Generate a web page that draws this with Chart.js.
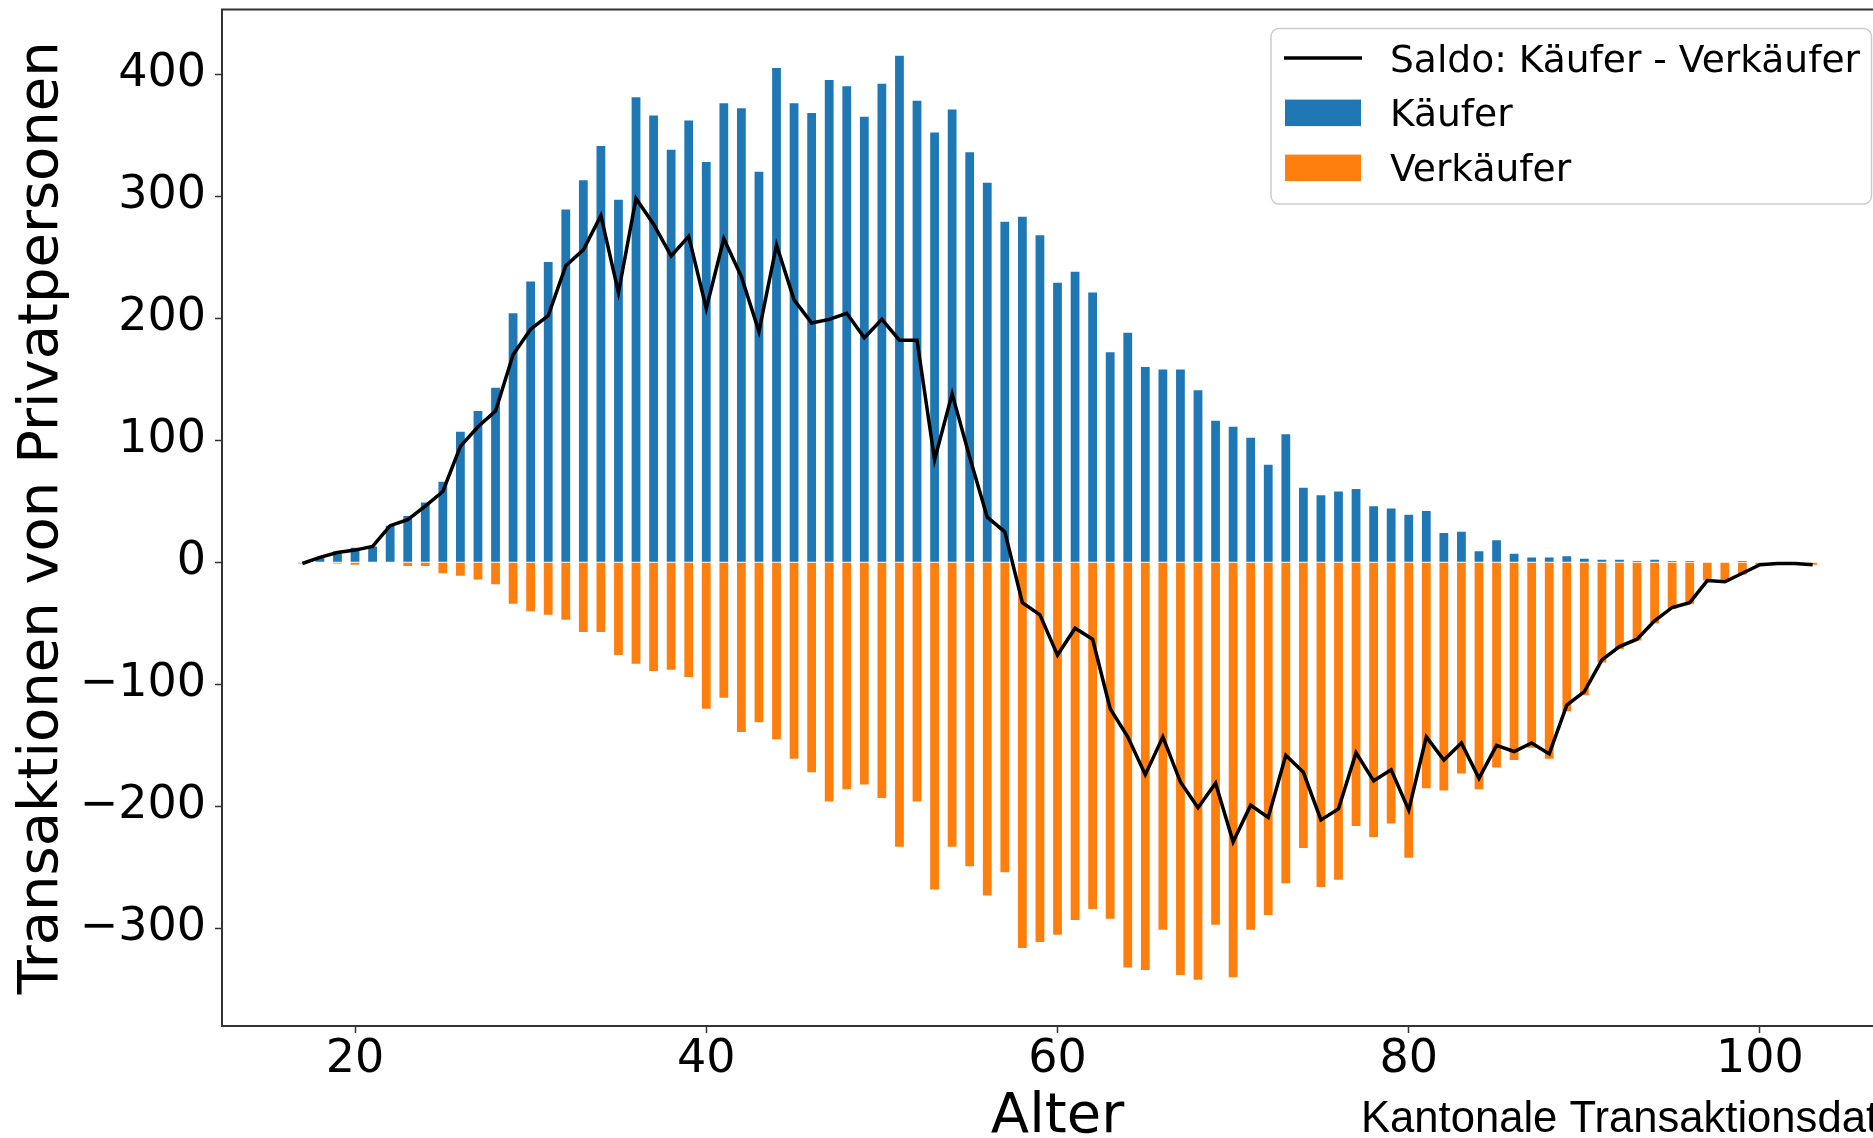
<!DOCTYPE html>
<html>
<head>
<meta charset="utf-8">
<style>
html,body{margin:0;padding:0;overflow:hidden;background:#fff;width:1873px;height:1138px}
#wrap{position:absolute;left:0;top:0;width:1900px;height:1138px}
</style>
<script src="https://cdn.jsdelivr.net/npm/chart.js@4.4.1/dist/chart.umd.min.js"></script>
</head>
<body>
<div id="wrap"><canvas id="c" width="1900" height="1138"></canvas></div>
<script>
// ---- data ----
const ages = [17,18,19,20,21,22,23,24,25,26,27,28,29,30,31,32,33,34,35,36,37,38,39,40,
  41,42,43,44,45,46,47,48,49,50,51,52,53,54,55,56,57,58,59,60,61,62,63,64,65,66,67,68,69,70,
  71,72,73,74,75,76,77,78,79,80,81,82,83,84,85,86,87,88,89,90,91,92,93,94,95,96,97,98,99,100,
  101,102,103];
const kaeufer = [0,4,9,12,13,30,38,49,66,107,124,143,204,230,246,289,313,341,297,381,366,338,362,328,
  376,372,320,405,376,368,395,390,365,392,415,378,352,371,336,311,279,283,268,229,238,221,172,188,160,158,158,141,116,111,
  102,80,105,61,55,58,60,46,44,39,42,24,25,9,18,7,4,4,5,3,2,2,1,2,1,1,0,0,1,0,
  0,0,0];
const verkaeufer = [1,0,1,2,0,0,3,3,9,11,14,18,34,40,43,47,57,57,76,83,89,88,94,120,
  111,139,131,145,161,172,196,186,182,193,233,196,268,233,249,273,254,316,311,305,293,284,292,332,334,301,338,342,297,340,
  301,289,263,234,266,260,216,225,214,242,185,187,173,186,168,162,152,161,122,109,82,71,64,50,38,34,15,16,10,2,
  1,1,2];
const saldo = [-1,4,8,10,13,30,35,46,58,95,111,124,170,191,202,243,256,284,221,298,277,251,267,208,
  265,234,189,260,215,196,199,204,184,199,182,182,84,138,86,37,25,-33,-43,-76,-54,-63,-120,-143,-174,-143,-180,-201,-181,-229,
  -199,-209,-158,-172,-211,-202,-156,-179,-170,-203,-143,-162,-148,-177,-150,-155,-148,-157,-117,-106,-80,-69,-63,-48,-37,-33,-15,-16,-9,-2,
  -1,-1,-2];
const xTicks = [20,40,60,80,100];
const yTicks = [400,300,200,100,0,-100,-200,-300];
const seriesNames = ['Saldo: Käufer - Verkäufer','Käufer','Verkäufer'];
const xTitle = 'Alter';
const yTitle = 'Transaktionen von Privatpersonen';
const sourceNote = 'Kantonale Transaktionsdaten';

// ---- chart ----
Chart.defaults.font.family = '"DejaVu Sans", sans-serif';
Chart.defaults.color = '#000';

const SPINE = '#333';

function roundRectPath(ctx, x, y, w, h, r) {
  ctx.beginPath();
  ctx.moveTo(x + r, y);
  ctx.lineTo(x + w - r, y);
  ctx.arcTo(x + w, y, x + w, y + r, r);
  ctx.lineTo(x + w, y + h - r);
  ctx.arcTo(x + w, y + h, x + w - r, y + h, r);
  ctx.lineTo(x + r, y + h);
  ctx.arcTo(x, y + h, x, y + h - r, r);
  ctx.lineTo(x, y + r);
  ctx.arcTo(x, y, x + r, y, r);
  ctx.closePath();
}

const overlay = {
  id: 'overlay',
  afterDraw(chart) {
    const ctx = chart.ctx;
    const a = chart.chartArea;
    ctx.save();
    // top & right spines
    ctx.strokeStyle = SPINE;
    ctx.lineWidth = 2;
    ctx.beginPath();
    ctx.moveTo(a.left - 1, a.top);
    ctx.lineTo(a.right, a.top);
    ctx.lineTo(a.right, a.bottom);
    ctx.stroke();

    // legend (matplotlib style)
    const ds = chart.data.datasets;
    const bx = 1271, by = 28.5, bw = 600.5, bh = 175.5;
    roundRectPath(ctx, bx, by, bw, bh, 8);
    ctx.fillStyle = 'rgba(255,255,255,0.8)';
    ctx.fill();
    ctx.strokeStyle = '#cccccc';
    ctx.lineWidth = 1.5;
    ctx.stroke();

    const rows = [58, 112.6, 167.6];
    const order = [2, 0, 1]; // Saldo, Käufer, Verkäufer
    ctx.font = '37.6px "DejaVu Sans"';
    ctx.textAlign = 'left';
    ctx.textBaseline = 'alphabetic';
    order.forEach((di, r) => {
      const d = ds[di];
      const cy = rows[r];
      if (d.type === 'line') {
        ctx.strokeStyle = d.borderColor;
        ctx.lineWidth = d.borderWidth;
        ctx.beginPath();
        ctx.moveTo(1284, cy);
        ctx.lineTo(1362, cy);
        ctx.stroke();
      } else {
        ctx.fillStyle = d.backgroundColor;
        ctx.fillRect(1285, cy - 13, 76, 26.5);
      }
      ctx.fillStyle = '#000';
      ctx.fillText(d.label, 1390, cy + 13.7);
    });

    // source note (cut at the right edge as in the original)
    ctx.font = '43.6px "Liberation Sans", sans-serif';
    ctx.fillStyle = '#000';
    ctx.fillText(sourceNote, 1361, 1131.5);
    ctx.restore();
  }
};

const ctx = document.getElementById('c').getContext('2d');
new Chart(ctx, {
  type: 'bar',
  data: {
    datasets: [
      {
        type: 'bar',
        label: seriesNames[1],
        data: kaeufer.map((v, i) => ({x: ages[i], y: v})),
        backgroundColor: '#1f77b4',
        borderWidth: 0,
        grouped: false,
        categoryPercentage: 1,
        barPercentage: 0.5,
        order: 2
      },
      {
        type: 'bar',
        label: seriesNames[2],
        data: verkaeufer.map((v, i) => ({x: ages[i], y: -v})),
        backgroundColor: '#ff7f0e',
        borderWidth: 0,
        grouped: false,
        categoryPercentage: 1,
        barPercentage: 0.5,
        order: 1
      },
      {
        type: 'line',
        label: seriesNames[0],
        data: saldo.map((v, i) => ({x: ages[i], y: v})),
        borderColor: '#000000',
        borderWidth: 3.5,
        pointRadius: 0,
        tension: 0,
        fill: false,
        order: 0
      }
    ]
  },
  options: {
    responsive: false,
    devicePixelRatio: 1,
    animation: false,
    layout: {padding: {top: 9.5, right: 7, left: 0, bottom: 0}},
    plugins: {legend: {display: false}, tooltip: {enabled: false}},
    scales: {
      x: {
        type: 'linear',
        min: 12.425,
        max: 107.575,
        offset: false,
        afterBuildTicks: s => { s.ticks = xTicks.map(v => ({value: v})); },
        afterFit: s => { s.height = 112; s.paddingLeft = 0; s.paddingRight = 0; },
        grid: {offset: false, drawOnChartArea: false, drawTicks: true, tickLength: 7, tickColor: SPINE, tickWidth: 1.5},
        border: {display: true, color: SPINE, width: 2},
        ticks: {
          autoSkip: false, maxRotation: 0, minRotation: 0, padding: 4.5,
          font: {size: 46, lineHeight: 1},
          color: '#000',
          callback: v => String(v)
        },
        title: {display: true, text: xTitle, font: {size: 56, lineHeight: 0.72}, padding: {top: 0, bottom: 0}, color: '#000'}
      },
      y: {
        type: 'linear',
        min: -379.85,
        max: 452.85,
        afterBuildTicks: s => { s.ticks = yTicks.map(v => ({value: v})); },
        afterFit: s => { s.width = 222; s.paddingTop = 0; s.paddingBottom = 0; },
        grid: {drawOnChartArea: false, drawTicks: true, tickLength: 7, tickColor: SPINE, tickWidth: 1.5},
        border: {display: true, color: SPINE, width: 2},
        ticks: {
          padding: 9,
          font: {size: 46, lineHeight: 1},
          color: '#000',
          callback: v => v < 0 ? '\u2212' + Math.abs(v) : String(v)
        },
        title: {display: true, text: yTitle, font: {size: 56, lineHeight: 1}, padding: {top: 14.3, bottom: 0}, color: '#000'}
      }
    }
  },
  plugins: [overlay]
});
</script>
</body>
</html>
